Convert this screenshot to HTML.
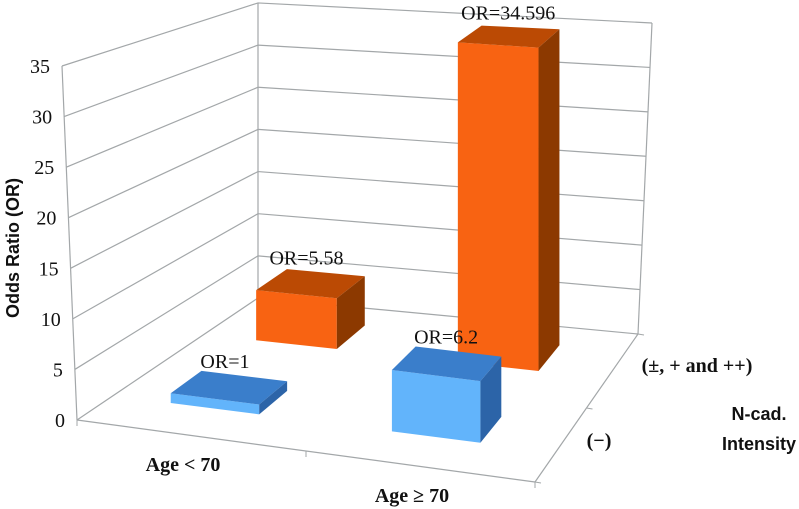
<!DOCTYPE html>
<html><head><meta charset="utf-8"><style>
body{margin:0;background:#fff}
svg{display:block}
text{font-family:"Liberation Serif",serif;fill:#111}
</style></head><body>
<svg id="c" width="799" height="509" viewBox="0 0 799 509">
<text x="14" y="248" transform="rotate(-90 14 248)" text-anchor="middle" dominant-baseline="middle" style="font-family:'Liberation Sans',sans-serif;font-weight:bold;font-size:18px">Odds Ratio (OR)</text>
<text x="183" y="471" text-anchor="middle" style="font-weight:bold;font-size:20px">Age &lt; 70</text>
<text x="412" y="502" text-anchor="middle" style="font-weight:bold;font-size:20px">Age ≥ 70</text>
<text x="697" y="372" text-anchor="middle" style="font-weight:bold;font-size:20px">(±, + and ++)</text>
<text x="599" y="447" text-anchor="middle" style="font-weight:bold;font-size:20px">(−)</text>
<text x="759" y="420" text-anchor="middle" style="font-family:'Liberation Sans',sans-serif;font-weight:bold;font-size:18px">N-cad.</text>
<text x="759" y="450" text-anchor="middle" style="font-family:'Liberation Sans',sans-serif;font-weight:bold;font-size:18px">Intensity</text>
</svg>
<script>
const ticks=[0,5,10,15,20,25,30,35];
const categories=["Age < 70","Age ≥ 70"];
const rows=["(−)","(±, + and ++)"];
const negValues=[1,6.2];
const posValues=[5.58,34.596];
const negLabels=["OR=1","OR=6.2"];
const posLabels=["OR=5.58","OR=34.596"];
const NS="http://www.w3.org/2000/svg",svg=document.getElementById('c');
const FL=[77,420],FR=[535,482],BR=[638,334],BL=[258,298];
const S={fl:10.1,fr:10.2,bl:8.43,br:9.1};
const MAX=35;
function lerp(a,b,t){return [a[0]+(b[0]-a[0])*t,a[1]+(b[1]-a[1])*t];}
function floor(u,w){return lerp(lerp(FL,FR,u),lerp(BL,BR,u),w);}
function scale(u,w){return (1-w)*((1-u)*S.fl+u*S.fr)+w*((1-u)*S.bl+u*S.br);}
function P(u,w,v){const p=floor(u,w);return [p[0],p[1]-v*scale(u,w)];}
function mk(tag,attrs){const e=document.createElementNS(NS,tag);for(const k in attrs)e.setAttribute(k,attrs[k]);svg.appendChild(e);return e;}
function poly(pts,fill){return mk('polygon',{points:pts.map(p=>p.join(',')).join(' '),fill:fill});}
const G='#a3a7a9';
ticks.forEach((v,i)=>{
  const t=v/MAX;
  const a=lerp([77,420],[62,66],t);
  const b=[258,298-v*8.43];
  const c=lerp([638,334],[652,23],t);
  const l=mk('polyline',{points:[a,b,c].map(p=>p.join(',')).join(' '),fill:'none',stroke:G,'stroke-width':1.2});
  
  
  const tx=mk('text',{x:a[0]-12,y:a[1]+7,'text-anchor':'end','font-size':20});
  tx.textContent=v;
  
  
});
[[[77,420],[62,66]],[[258,298],[258,3]],[[77,420],[535,482]],[[535,482],[638,334]],[[638,334],[652,23]]].forEach((s,i)=>{
  const l=mk('line',{x1:s[0][0],y1:s[0][1],x2:s[1][0],y2:s[1][1],stroke:G,'stroke-width':1.2});
  
  
});
[[0,0],[0.5,0],[1,0]].forEach((q,i)=>{const p=floor(q[0],q[1]);const l=mk('line',{x1:p[0],y1:p[1],x2:p[0],y2:p[1]+6,stroke:G});
  });
[0,0.5,1].forEach(w=>{const p=floor(1,w);const l=mk('line',{x1:p[0],y1:p[1],x2:p[0]+6,y2:p[1]+1,stroke:G});
  });
function bar(i,w0,w1,v,cols,label,name){
  const u0=0.13+i*0.5,u1=u0+0.2;
  const g=document.createElementNS(NS,'g');svg.appendChild(g);
  
  
  const faces=[
    [[P(u0,w0,0),P(u1,w0,0),P(u1,w0,v),P(u0,w0,v)],cols[0]],
    [[P(u0,w0,v),P(u1,w0,v),P(u1,w1,v),P(u0,w1,v)],cols[1]],
    [[P(u1,w0,0),P(u1,w1,0),P(u1,w1,v),P(u1,w0,v)],cols[2]]];
  faces.forEach(f=>{const e=poly(f[0],f[1]);g.appendChild(e);});
  const fc=P((u0+u1)/2,w0,v);
  const bk=P((u0+u1)/2,w1,v);
  const t=mk('text',{x:fc[0]+10,y:bk[1]-8,'text-anchor':'middle','font-size':20});
  t.textContent=label;
  
  
}
const orange=['#f86312','#bb4a04','#8c3900'],blue=['#62b4fb','#3a7ecb','#2c64a8'];
posValues.forEach((v,i)=>bar(i,0.7,0.88,v,orange,posLabels[i],'bar-positive-'+i));
negValues.forEach((v,i)=>bar(i,0.2,0.38,v,blue,negLabels[i],'bar-negative-'+i));
</script>
</body></html>
